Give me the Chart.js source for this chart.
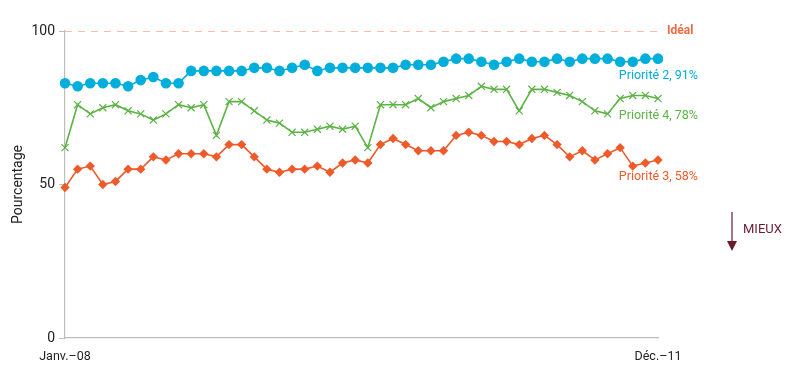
<!DOCTYPE html>
<html>
<head>
<meta charset="utf-8">
<script src="https://cdn.jsdelivr.net/npm/chart.js@4/dist/chart.umd.min.js"></script>
<style>
html,body{margin:0;padding:0;background:#fff;}
#wrap{width:800px;height:385px;position:relative;}
</style>
</head>
<body>
<div id="wrap"><canvas id="c" width="800" height="385"></canvas></div>
<script>
const months = ['Janv.–08','Févr.–08','Mars–08','Avr.–08','Mai–08','Juin–08','Juil.–08','Août–08','Sept.–08','Oct.–08','Nov.–08','Déc.–08',
'Janv.–09','Févr.–09','Mars–09','Avr.–09','Mai–09','Juin–09','Juil.–09','Août–09','Sept.–09','Oct.–09','Nov.–09','Déc.–09',
'Janv.–10','Févr.–10','Mars–10','Avr.–10','Mai–10','Juin–10','Juil.–10','Août–10','Sept.–10','Oct.–10','Nov.–10','Déc.–10',
'Janv.–11','Févr.–11','Mars–11','Avr.–11','Mai–11','Juin–11','Juil.–11','Août–11','Sept.–11','Oct.–11','Nov.–11','Déc.–11'];
const shownTicks = ['Janv.–08','Déc.–11'];
const priorite2 = [83,82,83,83,83,82,84,85,83,83,87,87,87,87,87,88,88,87,88,89,87,88,88,88,88,88,88,89,89,89,90,91,91,90,89,90,91,90,90,91,90,91,91,91,90,90,91,91];
const priorite4 = [62,76,73,75,76,74,73,71,73,76,75,76,66,77,77,74,71,70,67,67,68,69,68,69,62,76,76,76,78,75,77,78,79,82,81,81,74,81,81,80,79,77,74,73,78,79,79,78];
const priorite3 = [49,55,56,50,51,55,55,59,58,60,60,60,59,63,63,59,55,54,55,55,56,54,57,58,57,63,65,63,61,61,61,66,67,66,64,64,63,65,66,63,59,61,58,60,62,56,57,58];
const ideal = months.map(() => 100);
const yTicks = [0, 50, 100];
const seriesLabels = ['Priorité 2, 91%','Priorité 4, 78%','Priorité 3, 58%'];

const BLUE = '#00aedb', GREEN = '#5cb346', ORANGE = '#ef5a2a', IDEAL = '#f6a68c', MAROON = '#6b1a2e';
const FONT = 'Roboto, "Liberation Sans", sans-serif';

const annot = {
  id: 'annot',
  afterDatasetsDraw(chart) {
    const ctx = chart.ctx;
    const x = chart.scales.x, y = chart.scales.y;
    const lastX = x.getPixelForValue(months.length - 1);
    ctx.save();
    ctx.font = '12.5px ' + FONT;
    ctx.textAlign = 'right';
    ctx.textBaseline = 'middle';
    const sets = [[priorite2, BLUE, seriesLabels[0]], [priorite4, GREEN, seriesLabels[1]], [priorite3, ORANGE, seriesLabels[2]]];
    sets.forEach(([d, col, lab]) => {
      ctx.fillStyle = col;
      ctx.fillText(lab, lastX + 40, y.getPixelForValue(d[d.length - 1]) + 17);
    });
    ctx.textAlign = 'left';
    ctx.font = 'bold 12px ' + FONT;
    ctx.fillStyle = '#ee6a40';
    ctx.fillText('Idéal', lastX + 9, y.getPixelForValue(100));
    // MIEUX arrow
    ctx.strokeStyle = MAROON; ctx.fillStyle = MAROON; ctx.lineWidth = 1.2;
    ctx.beginPath(); ctx.moveTo(732, 212); ctx.lineTo(732, 242); ctx.stroke();
    ctx.beginPath(); ctx.moveTo(727, 241); ctx.lineTo(737, 241); ctx.lineTo(732, 251); ctx.closePath(); ctx.fill();
    ctx.font = '13px ' + FONT;
    ctx.textBaseline = 'middle';
    ctx.fillText('MIEUX', 743, 230);
    ctx.restore();
  }
};

new Chart(document.getElementById('c'), {
  type: 'line',
  data: {
    labels: months,
    datasets: [
      {label:'Idéal', data: ideal, borderColor: IDEAL, borderWidth: 1.5, borderDash: [7,6], pointRadius: 0, fill: false},
      {label:'Priorité 2', data: priorite2, borderColor: BLUE, backgroundColor: BLUE, borderWidth: 1.6, pointStyle: 'circle', pointRadius: 5.3, pointBorderWidth: 0},
      {label:'Priorité 4', data: priorite4, borderColor: GREEN, backgroundColor: GREEN, borderWidth: 1.6, pointStyle: 'crossRot', pointRadius: 5, pointBorderWidth: 1.2},
      {label:'Priorité 3', data: priorite3, borderColor: ORANGE, backgroundColor: ORANGE, borderWidth: 1.6, pointStyle: 'rectRot', pointRadius: 4.7, pointBorderWidth: 0}
    ]
  },
  options: {
    responsive: false,
    animation: false,
    layout: {padding: {left: 0, right: 142, top: 31, bottom: 0}},
    plugins: {legend: {display: false}, tooltip: {enabled: false}},
    elements: {line: {tension: 0}},
    scales: {
      x: {
        type: 'category',
        offset: false,
        border: {color: '#bdbdbd', width: 1.2},
        grid: {display: false, drawTicks: false},
        afterFit(s) { s.height = 47; },
        ticks: {
          autoSkip: false, maxRotation: 0, padding: 11,
          color: '#222', font: {family: FONT, size: 12.5},
          callback(v, i) { const l = months[i]; return shownTicks.includes(l) ? l : null; }
        }
      },
      y: {
        min: 0, max: 100,
        afterFit(s) { s.width = 65; },
        afterBuildTicks(s) { s.ticks = yTicks.map(v => ({value: v})); },
        border: {color: '#bdbdbd', width: 1.2},
        grid: {drawOnChartArea: false, drawTicks: true, tickLength: 6, color: '#bdbdbd'},
        ticks: {padding: 4, color: '#222', font: {family: FONT, size: 14}},
        title: {display: true, text: 'Pourcentage', color: '#222', font: {family: FONT, size: 14}, padding: {top: 10, bottom: 0}}
      }
    }
  },
  plugins: [annot]
});
</script>
</body>
</html>
